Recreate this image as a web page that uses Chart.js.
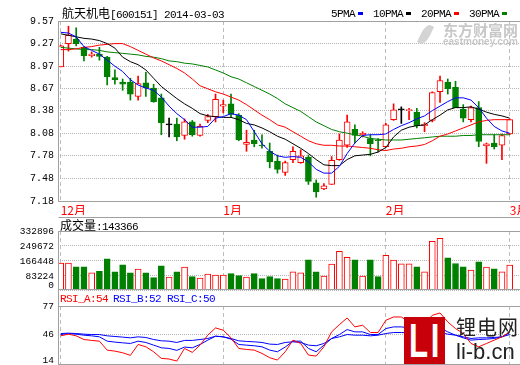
<!DOCTYPE html>
<html>
<head>
<meta charset="utf-8">
<title>航天机电 600151</title>
<script src="https://cdn.jsdelivr.net/npm/chart.js@4.4.1/dist/chart.umd.min.js"></script>
<style>
  body { margin: 0; background: #fff; }
  #wrap { position: relative; width: 520px; height: 365px; overflow: hidden; font-family: "Liberation Mono", monospace; }
  canvas { position: absolute; left: 0; }
  .t { position: absolute; white-space: nowrap; font-size: 11px; line-height: 12px; letter-spacing: -0.6px; color: #000; }
  .cjk { font-family: "Noto Sans CJK SC", sans-serif; font-size: 12px; letter-spacing: 0; }
  .mk { display: inline-block; width: 5px; height: 3px; vertical-align: 2px; margin-left: 3px; }
  .wm { position: absolute; white-space: nowrap; color: #c8c8c8; font-weight: bold; font-family: "Noto Sans CJK SC", sans-serif; }
</style>
</head>
<body>
<div id="wrap">
  <canvas id="priceChart" width="520" height="215" style="top:0"></canvas>
  <canvas id="volChart" width="520" height="76" style="top:217px"></canvas>
  <canvas id="rsiChart" width="520" height="76" style="top:289px"></canvas>

  <div class="t" style="left:62px;top:7px"><span class="cjk">航天机电</span>[600151] 2014-03-03</div>
  <div class="t" style="left:331px;top:8px">5PMA<span class="mk" style="background:#0000ff"></span></div>
  <div class="t" style="left:373px;top:8px">10PMA<span class="mk" style="background:#000"></span></div>
  <div class="t" style="left:421px;top:8px">20PMA<span class="mk" style="background:#ff0000"></span></div>
  <div class="t" style="left:469px;top:8px">30PMA<span class="mk" style="background:#008000"></span></div>

  <div class="wm" style="left:421px;top:24px;width:9px;height:21px;background:#d4d4d4;border-radius:60% 0 60% 0;transform:rotate(25deg)"></div>
  <div class="wm" style="left:443px;top:22px;font-size:15px;line-height:16px">东方财富网</div>
  <div class="wm" style="left:443px;top:37px;font-size:10px;line-height:10px;font-family:'Liberation Sans',sans-serif">eastmoney.com</div>

  <div class="t" style="left:60px;top:219px"><span class="cjk">成交量</span>:143366</div>
  <div class="t" style="left:60px;top:293px;color:#ff0000">RSI_A:54</div>
  <div class="t" style="left:113px;top:293px;color:#0000ff">RSI_B:52</div>
  <div class="t" style="left:167px;top:293px;color:#0000ff">RSI_C:50</div>

  <div style="position:absolute;left:404px;top:317px;width:41px;height:47px;background:#c8000a;overflow:hidden">
    <div style="color:#fff;font:bold 48px/47px 'Liberation Sans',sans-serif;letter-spacing:4px;transform:scaleX(0.65);transform-origin:0 0;margin-left:5px">LI</div>
  </div>
  <div style="position:absolute;left:456px;top:315px;font:20px/24px 'Noto Sans CJK SC',sans-serif;letter-spacing:1px;color:#222;white-space:nowrap">锂电网</div>
  <div style="position:absolute;left:456px;top:340px;font:22px/24px 'Liberation Sans',sans-serif;color:#222;white-space:nowrap">li-b.cn</div>
</div>

<script>
// axis labels
const monthIdx = [0, 21, 42, 58];
const monthLabels = ["12月", "1月", "2月", "3月"];
const priceTicks = [7.18, 7.48, 7.78, 8.08, 8.38, 8.67, 8.97, 9.27, 9.57];
const volTicks = [0, 83224, 166448, 249672, 332896];
const volAxisMin = 11096; // zero sits just below the panel edge
const rsiTicks = [14, 46, 77];

// daily candles, 2013-12 .. 2014-03-03
const opens  = [8.96, 9.27, 9.33, 9.22, 9.11, 9.13, 9.09, 8.82, 8.76, 8.76,
                8.57, 8.75, 8.68, 8.55, 8.19, 8.20, 8.05, 8.23, 8.05, 8.25,
                8.30, 8.44, 8.47, 8.32, 7.93, 7.99, 7.92, 7.84, 7.71, 7.56,
                7.73, 7.69, 7.76, 7.42, 7.34, 7.40, 7.73, 7.92, 8.13, 8.06,
                8.01, 7.99, 7.90, 8.26, 8.39, 8.38, 8.36, 8.18, 8.25, 8.63,
                8.76, 8.69, 8.40, 8.26, 8.42, 7.91, 7.95, 7.92, 8.07];
const closes = [9.24, 9.38, 9.27, 9.11, 9.13, 9.10, 8.83, 8.79, 8.73, 8.60,
                8.74, 8.68, 8.50, 8.22, 8.19, 8.03, 8.23, 8.06, 8.17, 8.30,
                8.53, 8.46, 8.33, 7.99, 7.96, 7.94, 7.91, 7.70, 7.60, 7.69,
                7.84, 7.78, 7.44, 7.30, 7.38, 7.72, 7.99, 8.23, 8.05, 8.08,
                7.94, 7.98, 8.19, 8.39, 8.39, 8.39, 8.18, 8.20, 8.62, 8.78,
                8.67, 8.42, 8.28, 8.42, 7.97, 7.94, 7.90, 8.05, 8.26];
const highs  = [9.25, 9.50, 9.48, 9.23, 9.16, 9.22, 9.10, 8.92, 8.80, 8.81,
                8.84, 8.89, 8.73, 8.60, 8.28, 8.28, 8.27, 8.25, 8.20, 8.33,
                8.60, 8.52, 8.60, 8.34, 8.12, 8.12, 8.06, 7.95, 7.79, 7.71,
                7.90, 7.86, 7.79, 7.46, 7.41, 7.77, 8.07, 8.32, 8.19, 8.10,
                8.06, 8.01, 8.21, 8.47, 8.43, 8.41, 8.41, 8.22, 8.63, 8.84,
                8.80, 8.77, 8.46, 8.44, 8.50, 7.95, 8.06, 8.07, 8.27];
const lows   = [8.96, 9.17, 9.24, 9.04, 9.09, 9.05, 8.72, 8.73, 8.65, 8.52,
                8.52, 8.57, 8.49, 8.06, 8.03, 7.98, 8.00, 8.04, 8.04, 8.22,
                8.23, 8.35, 8.29, 7.98, 7.84, 7.90, 7.88, 7.62, 7.55, 7.52,
                7.69, 7.68, 7.40, 7.23, 7.33, 7.40, 7.72, 7.89, 7.95, 8.03,
                7.78, 7.83, 7.89, 8.25, 8.21, 8.26, 8.15, 8.10, 8.23, 8.49,
                8.60, 8.42, 8.23, 8.23, 7.90, 7.68, 7.87, 7.73, 8.06];

// moving averages as drawn
const ma5  = [9.42, 9.41, 9.36, 9.23, 9.18, 9.13, 9.05, 8.97, 8.90, 8.79,
              8.72, 8.68, 8.65, 8.56, 8.44, 8.34, 8.26, 8.16, 8.16, 8.17,
              8.28, 8.30, 8.34, 8.32, 8.26, 8.10, 7.94, 7.84, 7.78, 7.76,
              7.77, 7.76, 7.70, 7.60, 7.55, 7.55, 7.64, 7.81, 7.95, 8.05,
              8.06, 8.06, 8.07, 8.13, 8.18, 8.22, 8.27, 8.31, 8.38, 8.44,
              8.50, 8.55, 8.55, 8.52, 8.42, 8.28, 8.17, 8.11, 8.08];
const ma10 = [9.40, 9.38, 9.36, 9.34, 9.33, 9.31, 9.27, 9.21, 9.09, 9.03,
              8.99, 8.92, 8.81, 8.70, 8.62, 8.54, 8.47, 8.41, 8.34, 8.31,
              8.30, 8.29, 8.29, 8.26, 8.21, 8.19, 8.15, 8.10, 8.04, 8.00,
              7.94, 7.88, 7.81, 7.73, 7.66, 7.65, 7.65, 7.73, 7.78, 7.79,
              7.80, 7.83, 7.89, 8.03, 8.12, 8.16, 8.18, 8.19, 8.26, 8.32,
              8.39, 8.42, 8.42, 8.43, 8.40, 8.36, 8.33, 8.31, 8.28];
const ma20 = [9.19, 9.19, 9.20, 9.22, 9.23, 9.25, 9.26, 9.27, 9.27, 9.23,
              9.18, 9.13, 9.08, 9.04, 8.99, 8.94, 8.88, 8.80, 8.71, 8.67,
              8.63, 8.60, 8.56, 8.52, 8.46, 8.39, 8.32, 8.26, 8.19, 8.16,
              8.10, 8.04, 7.98, 7.94, 7.92, 7.92, 7.91, 7.91, 7.90, 7.89,
              7.88, 7.86, 7.85, 7.87, 7.88, 7.90, 7.91, 7.93, 7.98, 8.04,
              8.07, 8.11, 8.15, 8.19, 8.23, 8.25, 8.26, 8.26, 8.26];
const ma30 = [9.22, 9.21, 9.20, 9.19, 9.19, 9.18, 9.16, 9.15, 9.14, 9.13,
              9.12, 9.10, 9.09, 9.07, 9.04, 9.03, 9.01, 9.00, 8.98, 8.96,
              8.92, 8.88, 8.83, 8.80, 8.75, 8.70, 8.65, 8.60, 8.54, 8.47,
              8.42, 8.37, 8.30, 8.23, 8.18, 8.13, 8.10, 8.08, 8.06, 8.04,
              8.01, 8.00, 7.99, 7.99, 7.99, 8.00, 8.01, 8.02, 8.03, 8.04,
              8.04, 8.04, 8.05, 8.05, 8.06, 8.06, 8.06, 8.06, 8.06];

const volumes = [154500, 154500, 134400, 134400, 101500, 108800, 178300, 107000, 145400, 101500,
                 121600, 101500, 74100, 139900, 77700, 107000, 132600, 79600, 72200, 94200,
                 88700, 88700, 96000, 85000, 77700, 96000, 68600, 79600, 68600, 66800,
                 107000, 101500, 172800, 107000, 83200, 149100, 220400, 187500, 172800, 83200,
                 172800, 79600, 198400, 171000, 150900, 150900, 134400, 107000, 275300, 291700,
                 183800, 152700, 134400, 116100, 161900, 132600, 123500, 107000, 143366];

const rsiA = [44.6, 46.4, 44.6, 40.6, 39.6, 38.8, 29.1, 28.0, 26.2, 23.4,
              35.2, 32.7, 27.3, 20.1, 19.4, 17.2, 30.9, 26.6, 34.5, 45.3,
              53.2, 50.7, 42.4, 30.9, 29.8, 29.1, 25.5, 20.8, 18.3, 27.3,
              39.9, 36.3, 23.7, 22.6, 32.7, 48.9, 56.8, 64.0, 54.3, 56.1,
              48.2, 48.2, 61.5, 65.1, 65.1, 59.7, 52.5, 57.9, 66.9, 69.4,
              59.7, 52.5, 47.1, 36.3, 32.7, 36.3, 39.9, 43.5, 49.0];
const rsiB = [46.0, 47.1, 46.4, 45.3, 44.6, 43.5, 38.8, 37.8, 37.0, 36.3,
              38.8, 37.4, 34.5, 31.6, 30.9, 28.8, 32.4, 31.6, 35.2, 39.9,
              44.2, 43.5, 41.0, 35.2, 34.5, 33.8, 32.7, 29.1, 27.3, 32.4,
              38.8, 38.8, 30.9, 27.3, 34.5, 41.7, 46.0, 51.4, 48.9, 48.9,
              46.0, 46.0, 52.5, 54.3, 54.3, 53.2, 50.7, 51.8, 52.5, 53.2,
              48.9, 45.3, 42.4, 39.9, 40.6, 41.0, 41.7, 43.5, 48.0];
const rsiC = [47.1, 47.5, 47.1, 46.4, 46.0, 46.0, 44.6, 43.9, 43.2, 42.4,
              43.5, 42.8, 40.6, 39.2, 38.8, 37.4, 39.6, 39.6, 40.6, 41.7,
              44.2, 43.5, 41.7, 39.2, 38.5, 38.1, 37.4, 35.6, 35.2, 37.4,
              38.1, 37.4, 34.5, 33.8, 36.3, 41.7, 43.5, 46.0, 45.3, 45.3,
              44.6, 45.3, 47.1, 48.2, 48.2, 47.8, 47.1, 47.8, 48.2, 48.2,
              46.4, 45.3, 43.5, 41.7, 42.4, 42.4, 42.8, 43.5, 46.0];

const RED = "#ff0000", GREEN = "#008000", BLUE = "#0000ff";

// red = up, green = down, black = flat
function candleColor(i) {
    if (closes[i] > opens[i]) return RED;
    if (closes[i] < opens[i]) return GREEN;
    return "#000000";
}
function bodyFill(i) {
    return closes[i] > opens[i] ? "#ffffff" : candleColor(i);
}
const isUp = i => closes[i] >= opens[i];

const points = arr => arr.map((v, i) => ({ x: i, y: v }));

// frame lines + optional clamped y labels
const framePlugin = {
    id: "frame",
    afterDraw(chart, args, opts) {
        const { ctx, chartArea } = chart;
        const left = chartArea.left + 0.5;
        const top = chartArea.top + 0.5;
        const bottom = chartArea.bottom + 0.5;
        ctx.save();
        ctx.strokeStyle = "#a0a0a0";
        ctx.lineWidth = 1;
        ctx.beginPath();
        if (opts.header) {
            ctx.moveTo(left, 0.5);
            ctx.lineTo(chart.width, 0.5);
        }
        ctx.moveTo(left, opts.fromTop ? 0 : top);
        ctx.lineTo(left, bottom);
        ctx.moveTo(left, top);
        ctx.lineTo(chart.width, top);
        ctx.moveTo(left, bottom);
        ctx.lineTo(chart.width, bottom);
        ctx.stroke();

        if (opts.labels) {
            const s = chart.scales.y;
            ctx.fillStyle = "#000";
            ctx.font = '9.5px "Liberation Mono"';
            ctx.textAlign = "right";
            ctx.textBaseline = "middle";
            opts.labels.forEach(v => {
                const y = Math.min(s.getPixelForValue(v), chartArea.bottom - 3.5);
                ctx.fillText(String(v), 54, y);
            });
        }
        ctx.restore();
    }
};

function xAxis(showLabels, height) {
    return {
        type: "linear",
        min: -0.35,
        max: 59.33,
        offset: false,
        afterBuildTicks: s => { s.ticks = monthIdx.map(v => ({ value: v })); },
        afterFit: s => { s.height = height; s.paddingLeft = 0; s.paddingRight = 0; },
        grid: { color: "#bdbdbd", drawTicks: false, offset: false },
        border: { display: false, dash: [4, 3] },
        ticks: {
            display: showLabels,
            autoSkip: false,
            maxRotation: 0,
            align: "start",
            padding: 2,
            color: RED,
            font: { family: '"Noto Sans CJK SC"', size: 12 },
            callback: v => monthLabels[monthIdx.indexOf(v)]
        }
    };
}

function yAxis(min, max, ticks, showLabels) {
    return {
        min: min,
        max: max,
        afterBuildTicks: s => { s.ticks = ticks.map(v => ({ value: v })); },
        afterFit: s => { s.width = 58; },
        grid: { color: "#b4b4b4", drawTicks: false },
        border: { display: false, dash: [1, 1] },
        ticks: {
            display: showLabels,
            autoSkip: false,
            padding: 4,
            color: "#000",
            font: { family: '"Liberation Mono"', size: 10 },
            callback: v => v.toFixed(2)
        }
    };
}

const common = {
    responsive: false,
    animation: false,
    events: [],
    plugins: { legend: { display: false }, tooltip: { enabled: false } }
};

function maLine(data, color) {
    return {
        type: "line",
        data: points(data),
        borderColor: color,
        borderWidth: 1,
        pointRadius: 0,
        tension: 0,
        fill: false
    };
}

// price panel: earlier datasets draw on top
const priceCtx = document.getElementById("priceChart").getContext("2d");
new Chart(priceCtx, {
    type: "bar",
    data: {
        datasets: [
            maLine(ma5, BLUE),
            maLine(ma10, "#000000"),
            maLine(ma20, RED),
            maLine(ma30, GREEN),
            {
                label: "body",
                data: opens.map((o, i) => ({ x: i, y: [o, closes[i]] })),
                backgroundColor: c => bodyFill(c.dataIndex),
                borderColor: c => candleColor(c.dataIndex),
                borderWidth: 1,
                borderSkipped: false,
                minBarLength: 1,
                barThickness: 6,
                grouped: false
            },
            {
                label: "wick",
                data: lows.map((l, i) => ({ x: i, y: [l, highs[i]] })),
                backgroundColor: c => candleColor(c.dataIndex),
                borderWidth: 0,
                barThickness: 1,
                grouped: false
            }
        ]
    },
    options: {
        ...common,
        layout: { padding: { top: 21, left: 0, right: 0, bottom: 0 } },
        scales: {
            x: xAxis(true, 14),
            y: yAxis(priceTicks[0], priceTicks[priceTicks.length - 1], priceTicks, true)
        },
        plugins: { ...common.plugins, frame: {} }
    },
    plugins: [framePlugin]
});

// volume panel
const volCtx = document.getElementById("volChart").getContext("2d");
new Chart(volCtx, {
    type: "bar",
    data: {
        datasets: [{
            data: points(volumes),
            backgroundColor: c => isUp(c.dataIndex) ? "#ffffff" : GREEN,
            borderColor: c => isUp(c.dataIndex) ? RED : GREEN,
            borderWidth: 1,
            borderSkipped: false,
            barThickness: 6,
            grouped: false
        }]
    },
    options: {
        ...common,
        layout: { padding: { top: 14, left: 0, right: 0, bottom: 0 } },
        scales: {
            x: xAxis(false, 4),
            y: yAxis(volAxisMin, volTicks[volTicks.length - 1], volTicks, false)
        },
        plugins: { ...common.plugins, frame: { header: true, labels: volTicks } }
    },
    plugins: [framePlugin]
});

// RSI panel
const rsiCtx = document.getElementById("rsiChart").getContext("2d");
new Chart(rsiCtx, {
    type: "line",
    data: {
        datasets: [
            maLine(rsiA, RED),
            maLine(rsiB, BLUE),
            maLine(rsiC, BLUE)
        ]
    },
    options: {
        ...common,
        layout: { padding: { top: 17, left: 0, right: 0, bottom: 0 } },
        scales: {
            x: xAxis(false, 1),
            y: yAxis(rsiTicks[0], rsiTicks[rsiTicks.length - 1], rsiTicks, false)
        },
        plugins: { ...common.plugins, frame: { fromTop: true, labels: rsiTicks } }
    },
    plugins: [framePlugin]
});
</script>
</body>
</html>
